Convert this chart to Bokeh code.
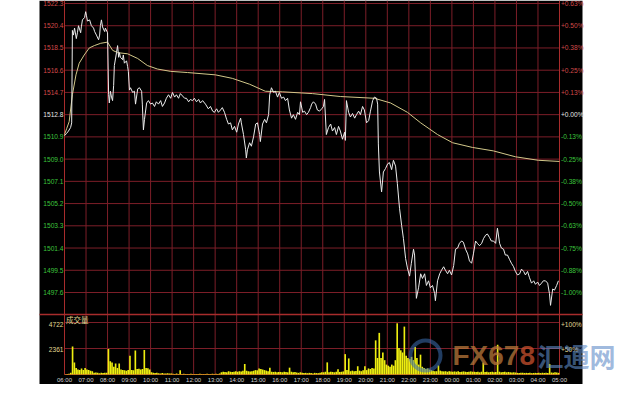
from bokeh.plotting import figure
from bokeh.models import Range1d
from bokeh.core.properties import value
from bokeh.embed import file_html
from bokeh.resources import INLINE

# ---------------- data ----------------
BASE_PRICE = 1512.8
PRICE_LEVELS = [1522.3, 1520.4, 1518.5, 1516.6, 1514.7, 1512.8, 1510.9,
                1509.0, 1507.1, 1505.2, 1503.3, 1501.4, 1499.5, 1497.6]
PRICE_LABELS = ["1522.3", "1520.4", "1518.5", "1516.6", "1514.7", "1512.8", "1510.9",
                "1509.0", "1507.1", "1505.2", "1503.3", "1501.4", "1499.5", "1497.6"]
PCT_LABELS = ["+0.63%", "+0.50%", "+0.38%", "+0.25%", "+0.13%", "+0.00%", "-0.13%",
              "-0.25%", "-0.38%", "-0.50%", "-0.63%", "-0.75%", "-0.88%", "-1.00%"]
VOL_LEVELS = [4722, 2361]
VOL_LABELS = ["4722", "2361"]
VOL_PCT_LABELS = ["+100%", "+50%"]
TIME_LABELS = ["06:00", "07:00", "08:00", "09:00", "10:00", "11:00", "12:00", "13:00",
               "14:00", "15:00", "16:00", "17:00", "18:00", "19:00", "20:00", "21:00",
               "22:00", "23:00", "00:00", "01:00", "02:00", "03:00", "04:00", "05:00"]

# price line: minutes after 06:00 and price
PRICE_MIN = [0, 6, 11, 17, 20, 22, 25, 28, 33, 36, 39, 45, 47, 50, 56, 59, 61, 64, 70, 75,
             81, 84, 89, 95, 98, 100, 103, 106, 112, 114, 120, 123, 125, 128, 131, 134, 137, 139, 145, 148,
             151, 153, 156, 162, 164, 167, 173, 176, 178, 181, 184, 190, 195, 198, 204, 209, 215, 217, 220, 223,
             229, 234, 240, 245, 251, 256, 262, 268, 273, 279, 284, 290, 296, 301, 307, 312, 318, 323, 329, 335,
             340, 346, 351, 357, 362, 368, 374, 379, 385, 393, 401, 407, 413, 418, 424, 429, 435, 440, 446, 452,
             457, 463, 468, 474, 480, 485, 491, 493, 499, 505, 507, 510, 516, 521, 527, 533, 538, 544, 546, 552,
             558, 563, 569, 572, 577, 583, 588, 594, 599, 605, 611, 616, 622, 627, 633, 638, 644, 650, 655, 658,
             664, 669, 675, 680, 686, 689, 694, 700, 705, 711, 717, 722, 725, 730, 736, 742, 747, 753, 758, 764,
             769, 775, 781, 783, 786, 792, 797, 803, 809, 814, 820, 825, 831, 836, 842, 848, 853, 859, 864, 870,
             873, 875, 878, 884, 889, 895, 901, 906, 912, 917, 923, 928, 934, 940, 945, 951, 956, 962, 967, 973,
             976, 981, 987, 993, 998, 1004, 1009, 1015, 1020, 1026, 1032, 1034, 1040, 1046, 1051, 1057, 1062, 1068, 1073, 1079,
             1085, 1090, 1096, 1101, 1107, 1112, 1118, 1124, 1129, 1135, 1140, 1146, 1151, 1157, 1163, 1168, 1174, 1179, 1185, 1190,
             1196, 1202, 1207, 1213, 1218, 1224, 1229, 1235, 1241, 1246, 1252, 1257, 1263, 1269, 1274, 1280, 1285, 1291, 1296, 1302,
             1308, 1313, 1319, 1324, 1330, 1335, 1341, 1347, 1352, 1355, 1361, 1366, 1372, 1377]
PRICE_VAL = [1511.0, 1511.2, 1511.4, 1511.7, 1512.1, 1520.0, 1519.6, 1520.2, 1519.3, 1519.8, 1520.4, 1519.8, 1520.3, 1520.9, 1521.1, 1521.6, 1521.3, 1520.8, 1520.9, 1520.4,
             1520.2, 1519.9, 1519.6, 1519.2, 1519.6, 1520.4, 1520.9, 1520.3, 1519.9, 1520.2, 1519.8, 1514.5, 1513.8, 1514.8, 1514.3, 1514.0, 1515.3, 1517.0, 1518.1, 1518.7,
             1517.7, 1518.1, 1517.7, 1517.5, 1517.9, 1517.2, 1517.4, 1516.9, 1516.5, 1514.9, 1515.1, 1514.7, 1514.8, 1513.7, 1515.0, 1515.1, 1514.8, 1513.7, 1511.5, 1512.4,
             1513.8, 1514.0, 1513.7, 1513.8, 1513.5, 1513.9, 1513.7, 1514.0, 1513.5, 1513.8, 1514.2, 1514.5, 1514.2, 1514.7, 1514.3, 1514.5, 1514.2, 1514.6, 1514.4, 1514.2,
             1514.2, 1513.9, 1514.1, 1514.0, 1514.2, 1513.9, 1514.1, 1513.8, 1514.0, 1513.7, 1513.3, 1513.5, 1513.1, 1513.0, 1513.3, 1513.0, 1513.2, 1513.4, 1513.0, 1512.4,
             1512.0, 1512.1, 1511.5, 1511.8, 1511.3, 1512.0, 1512.5, 1512.1, 1511.1, 1509.8, 1509.1, 1509.8, 1510.4, 1510.1, 1510.9, 1512.0, 1512.1, 1511.1, 1510.5, 1512.0,
             1512.4, 1512.1, 1512.8, 1514.5, 1515.1, 1514.7, 1514.8, 1514.3, 1514.7, 1514.2, 1514.3, 1514.0, 1514.2, 1513.2, 1512.5, 1512.8, 1512.4, 1513.0, 1512.8, 1513.9,
             1513.0, 1513.1, 1512.8, 1513.0, 1513.4, 1513.7, 1513.9, 1513.7, 1513.2, 1513.1, 1513.3, 1513.5, 1514.1, 1511.1, 1511.7, 1512.0, 1511.4, 1511.7, 1511.1, 1511.8,
             1511.4, 1510.7, 1511.3, 1510.6, 1514.0, 1513.0, 1512.6, 1512.9, 1512.5, 1512.8, 1513.1, 1512.8, 1513.5, 1513.2, 1512.1, 1512.3, 1513.1, 1514.0, 1514.3, 1514.2,
             1513.7, 1510.3, 1507.9, 1506.2, 1507.9, 1508.2, 1508.6, 1508.7, 1508.1, 1508.9, 1508.4, 1506.9, 1504.8, 1503.3, 1502.2, 1500.5, 1499.7, 1499.0, 1500.1, 1501.3,
             1500.8, 1497.1, 1498.0, 1499.2, 1498.8, 1499.2, 1498.2, 1498.6, 1498.0, 1498.2, 1497.5, 1496.9, 1498.6, 1499.2, 1499.5, 1499.8, 1499.5, 1499.2, 1499.5, 1499.1,
             1499.9, 1501.3, 1501.4, 1501.8, 1502.0, 1501.9, 1501.3, 1500.9, 1500.3, 1500.1, 1500.9, 1502.0, 1501.8, 1501.6, 1501.8, 1502.2, 1502.5, 1502.6, 1502.3, 1502.0,
             1502.0, 1501.8, 1503.1, 1501.8, 1501.4, 1501.3, 1500.8, 1500.8, 1500.4, 1500.1, 1499.8, 1499.4, 1499.1, 1499.2, 1499.6, 1499.4, 1499.1, 1499.4, 1498.9, 1498.4,
             1498.6, 1498.3, 1498.5, 1498.2, 1498.4, 1498.6, 1498.6, 1498.4, 1497.5, 1496.5, 1497.9, 1497.8, 1498.2, 1498.6]

# average price line
AVG_MIN = [0, 6, 13, 22, 32, 41, 55, 69, 83, 101, 120, 134, 148, 176, 204, 231, 259, 296, 343, 421,
           468, 516, 560, 608, 691, 769, 864, 909, 956, 993, 1040, 1082, 1137, 1196, 1257, 1321, 1380]
AVG_VAL = [1511.1, 1511.6, 1512.2, 1514.5, 1516.2, 1517.2, 1517.9, 1518.5, 1518.7, 1518.9, 1519.0, 1518.3, 1518.1, 1518.0, 1517.6, 1517.0, 1516.7, 1516.5, 1516.4, 1516.2,
           1515.9, 1515.4, 1514.8, 1514.75, 1514.6, 1514.35, 1514.2, 1513.8, 1513.0, 1512.1, 1511.1, 1510.4, 1510.0, 1509.7, 1509.2, 1508.9, 1508.8]

# volume, 5-minute bins starting 06:00 (one row per hour)
VOLUME = [
    30, 40, 60, 150, 2540, 1080, 600, 450, 400, 550, 400, 600,          # 06
    450, 400, 350, 300, 150, 180, 150, 120, 150, 130, 150, 160,         # 07
    2310, 1200, 1100, 700, 1000, 600, 1000, 450, 400, 380, 350, 400,    # 08
    1700, 400, 380, 2170, 500, 520, 450, 500, 2230, 600, 560, 450,      # 09
    200, 150, 130, 150, 120, 100, 130, 100, 90, 110, 80, 90,            # 10
    60, 50, 80, 40, 380, 50, 60, 40, 50, 40, 60, 50,                    # 11
    40, 50, 40, 60, 50, 40, 50, 60, 40, 50, 60, 50,                     # 12
    60, 50, 80, 200, 250, 230, 200, 300, 250, 220, 260, 300,            # 13
    250, 300, 280, 350, 950, 350, 300, 280, 300, 350, 400, 380,         # 14
    540, 500, 450, 400, 350, 300, 620, 250, 230, 250, 200, 230,         # 15
    230, 200, 250, 230, 200, 620, 250, 200, 230, 180, 150, 200,         # 16
    150, 130, 150, 120, 150, 130, 100, 150, 130, 120, 150, 200,         # 17
    200, 250, 1100, 200, 250, 230, 200, 250, 480, 230, 250, 280,        # 18
    1850, 400, 1460, 300, 350, 300, 320, 750, 350, 300, 380, 750,       # 19
    400, 550, 500, 600, 550, 3100, 1500, 3780, 1500, 2000, 1300, 900,   # 20
    800, 700, 900, 800, 1300, 4650, 2400, 2200, 2000, 4350, 1700, 1500, # 21
    1400, 1600, 1300, 2500, 1500, 900, 1800, 700, 600, 500, 550, 450,   # 22
    400, 350, 300, 300, 820, 350, 300, 280, 300, 250, 300, 280,         # 23
    250, 280, 250, 300, 230, 250, 280, 250, 230, 250, 280, 250,         # 00
    250, 230, 250, 200, 250, 1080, 230, 250, 200, 230, 250, 200,        # 01
    230, 2700, 250, 200, 230, 250, 200, 230, 200, 180, 200, 180,        # 02
    150, 130, 150, 160, 140, 150, 130, 150, 120, 140, 150, 130,         # 03
    150, 130, 160, 140, 150, 130, 950, 180, 160, 200, 180, 150,         # 04
]

# ---------------- layout (figure pixels) ----------------
W, H = 624, 384
FX_L, FX_R = 64, 559            # 06:00 and 05:00
BLACK_L, BLACK_R = 39, 582
FY_TOP_TICK, FY_BOT_TICK = 3, 292
FY_MAIN_BOTTOM = 314
FY_VOL_TICK, FY_VOL_ZERO = 322, 374
FY_TIME = 379.5
T_START, T_END = 6, 29

px_hr = (FX_R - FX_L) / (T_END - T_START)
X0 = T_START - FX_L / px_hr
X1 = X0 + W / px_hr
def hx(fx):
    return X0 + fx / px_hr

px_p = (FY_BOT_TICK - FY_TOP_TICK) / (PRICE_LEVELS[0] - PRICE_LEVELS[-1])
Y1 = PRICE_LEVELS[0] + FY_TOP_TICK / px_p
Y0 = Y1 - H / px_p
def py(fy):
    return Y1 - fy / px_p

px_v = (FY_VOL_ZERO - FY_VOL_TICK) / VOL_LEVELS[0]
V1 = FY_VOL_ZERO / px_v
V0 = V1 - H / px_v
def vy(fy):
    return V1 - fy / px_v

RED, GREEN, WHITE = "#d24a4a", "#3cc43c", "#e6e6e6"
KHAKI = "#e0d894"
GRID = "#7c1e28"
BORDER = "#a82c2c"
FONT = value("Liberation Sans")

p = figure(width=W, height=H, x_range=Range1d(X0, X1), y_range=Range1d(Y0, Y1),
           x_axis_type=None, y_axis_type=None, toolbar_location=None,
           output_backend="svg", min_border=0, title=None,
           background_fill_color="white", border_fill_color="white",
           outline_line_color=None)
p.extra_y_ranges = {"vol": Range1d(V0, V1)}

# black panel
p.quad(left=[hx(BLACK_L)], right=[hx(BLACK_R)], bottom=[Y0], top=[Y1],
       fill_color="black", line_color=None)

# grid
y_bottom = py(FY_VOL_ZERO)
hours = list(range(T_START + 1, T_END))
p.segment(x0=hours, x1=hours, y0=[y_bottom] * len(hours), y1=[Y1] * len(hours),
          line_color=GRID, line_width=1)
p.segment(x0=[T_START] * len(PRICE_LEVELS), x1=[T_END] * len(PRICE_LEVELS),
          y0=PRICE_LEVELS, y1=PRICE_LEVELS, line_color=GRID, line_width=1)
p.segment(x0=[T_START] * 2, x1=[T_END] * 2, y0=VOL_LEVELS, y1=VOL_LEVELS,
          line_color=GRID, line_width=1, y_range_name="vol")
p.segment(x0=[T_START, T_END], x1=[T_START, T_END], y0=[y_bottom] * 2, y1=[Y1] * 2,
          line_color=BORDER, line_width=1)
p.segment(x0=[hx(BLACK_L)], x1=[hx(BLACK_R)], y0=[py(FY_MAIN_BOTTOM)], y1=[py(FY_MAIN_BOTTOM)],
          line_color=BORDER, line_width=1.6)
p.segment(x0=[T_START], x1=[T_END], y0=[0], y1=[0], line_color=BORDER, line_width=1,
          y_range_name="vol")

# volume bars
bin_h = 5 / 60
vx = [T_START + (i + 0.5) * bin_h for i in range(len(VOLUME))]
p.vbar(x=vx, width=bin_h * 0.92, top=VOLUME, bottom=0, y_range_name="vol",
       fill_color="#eeee10", line_color=None)

# lines
p.line(x=[T_START + m / 60 for m in AVG_MIN], y=AVG_VAL, line_color="#d2c88a", line_width=1)
p.line(x=[T_START + m / 60 for m in PRICE_MIN], y=PRICE_VAL, line_color="#ececec", line_width=1)

# price labels
def lvl_color(v):
    if abs(v - BASE_PRICE) < 1e-6:
        return WHITE
    return RED if v > BASE_PRICE else GREEN
cols = [lvl_color(v) for v in PRICE_LEVELS]
p.text(x=[hx(FX_L - 1)] * len(PRICE_LEVELS), y=PRICE_LEVELS, text=PRICE_LABELS,
       text_color=cols, text_font=FONT, text_font_size="6.6px",
       text_align="right", text_baseline="middle")
p.text(x=[hx(FX_R + 1.5)] * len(PRICE_LEVELS), y=PRICE_LEVELS, text=PCT_LABELS,
       text_color=cols, text_font=FONT, text_font_size="6.6px",
       text_align="left", text_baseline="middle")

# volume labels
vol_lab_y = [vy(FY_VOL_TICK + 2), vy(FY_VOL_ZERO - (FY_VOL_ZERO - FY_VOL_TICK) / 2 + 1)]
p.text(x=[hx(FX_L - 1)] * 2, y=vol_lab_y, text=VOL_LABELS, text_color=KHAKI,
       text_font=FONT, text_font_size="6.6px", text_align="right", text_baseline="middle",
       y_range_name="vol")
p.text(x=[hx(FX_R + 1.5)] * 2, y=vol_lab_y, text=VOL_PCT_LABELS, text_color=KHAKI,
       text_font=FONT, text_font_size="6.6px", text_align="left", text_baseline="middle",
       y_range_name="vol")
p.text(x=[hx(FX_L + 1.5)], y=[py(FY_MAIN_BOTTOM + 5)], text=["成交量"], text_color=KHAKI,
       text_font=value("Noto Sans CJK SC"), text_font_size="7.5px",
       text_align="left", text_baseline="middle")

# time labels
p.text(x=list(range(T_START, T_END + 1)), y=[py(FY_TIME)] * len(TIME_LABELS),
       text=TIME_LABELS, text_color="#d2d2d2", text_font=FONT, text_font_size="6px",
       text_align="center", text_baseline="middle")

# watermark
WM = value("Liberation Sans")
p.scatter(x=[hx(425)], y=[py(355)], marker="circle", size=30, fill_color=None,
          line_color="#3d6fb3", line_alpha=0.55, line_width=4)
p.text(x=[hx(452)], y=[py(355)], text=["FX67"], text_color="#b8773a", text_alpha=0.75,
       text_font=WM, text_font_style="bold",
       text_font_size="28px", text_align="left", text_baseline="middle")
p.text(x=[hx(519)], y=[py(355)], text=["8"], text_color="#c8502e", text_alpha=0.75,
       text_font=WM, text_font_style="bold",
       text_font_size="28px", text_align="left", text_baseline="middle")
p.text(x=[hx(537)], y=[py(355)], text=["汇通网"], text_color="#5f8cc8", text_alpha=0.6,
       text_font=value("Noto Sans CJK SC"), text_font_style="bold",
       text_font_size="26px", text_align="left", text_baseline="middle")

open("out.html", "w").write(file_html(p, INLINE))
